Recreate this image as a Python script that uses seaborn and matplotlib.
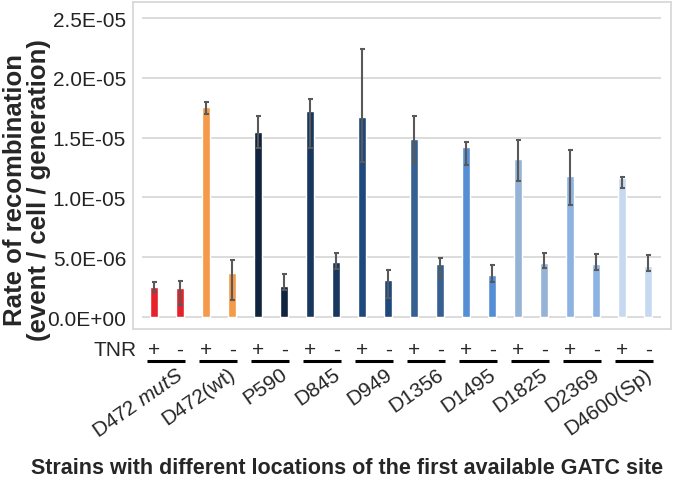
import numpy as np
import pandas as pd
import matplotlib
matplotlib.use("Agg")
import matplotlib.pyplot as plt
import matplotlib.transforms as mtransforms
from matplotlib.ticker import FuncFormatter
import seaborn as sns

# --- data ---
strains = ["D472 mutS", "D472(wt)", "P590", "D845", "D949",
           "D1356", "D1495", "D1825", "D2369", "D4600(Sp)"]
tnr_signs = ["+", "-"]

rate_plus = [2.5e-6, 1.76e-5, 1.55e-5, 1.72e-5, 1.67e-5,
             1.49e-5, 1.42e-5, 1.32e-5, 1.18e-5, 1.16e-5]
rate_minus = [2.4e-6, 3.7e-6, 2.6e-6, 4.6e-6, 3.1e-6,
              4.4e-6, 3.5e-6, 4.5e-6, 4.4e-6, 4.3e-6]
plus_low = [2.1e-6, 1.70e-5, 1.41e-5, 1.41e-5, 1.30e-5,
            1.29e-5, 1.27e-5, 1.14e-5, 9.4e-6, 1.08e-5]
plus_high = [2.9e-6, 1.80e-5, 1.68e-5, 1.82e-5, 2.24e-5,
             1.68e-5, 1.46e-5, 1.48e-5, 1.40e-5, 1.17e-5]
minus_low = [1.0e-6, 1.4e-6, 2.3e-6, 4.0e-6, 1.6e-6,
             3.3e-6, 2.95e-6, 4.07e-6, 3.93e-6, 3.87e-6]
minus_high = [3.0e-6, 4.8e-6, 3.6e-6, 5.35e-6, 3.95e-6,
              4.9e-6, 4.35e-6, 5.35e-6, 5.27e-6, 5.18e-6]

strain_colors = ["#e8202a", "#f59a48", "#10243f", "#17375e", "#1f497d",
                 "#376092", "#558ed5", "#95b3d7", "#8db3e2", "#c6d9f1"]

# long table, one row per bar
rows = []
for i, s in enumerate(strains):
    rows.append((s + " +", s, "+", rate_plus[i], plus_low[i], plus_high[i]))
    rows.append((s + " -", s, "-", rate_minus[i], minus_low[i], minus_high[i]))
df = pd.DataFrame(rows, columns=["bar", "strain", "tnr", "rate", "low", "high"])
palette = {b: strain_colors[strains.index(s)] for b, s in zip(df["bar"], df["strain"])}

# --- style ---
sns.set_style("white")
plt.rcParams["font.family"] = ["Liberation Sans", "DejaVu Sans"]
plt.rcParams["mathtext.fontset"] = "custom"
plt.rcParams["mathtext.it"] = "Liberation Sans:italic"
plt.rcParams["mathtext.rm"] = "Liberation Sans"

W, H = 677, 481
fig = plt.figure(figsize=(W / 100, H / 100), dpi=100)
ax = fig.add_axes([133 / W, 1 - 330 / H, (670.7 - 133) / W, 327 / H])

sns.barplot(data=df, x="bar", y="rate", hue="bar", palette=palette,
            width=0.3, legend=False, errorbar=None, saturation=1, ax=ax)

pos = np.arange(len(df))
ax.errorbar(pos, df["rate"],
            yerr=[df["rate"] - df["low"], df["high"] - df["rate"]],
            fmt="none", ecolor="#595959", elinewidth=1.5, capsize=1.8,
            capthick=1.5, zorder=3)

ax.set_xlim(-0.81, 19.87)
ax.set_ylim(-1.0e-6, 2.634e-5)
yticks = np.arange(0, 2.6e-5, 5e-6)
ax.set_yticks(yticks)
ax.yaxis.set_major_formatter(FuncFormatter(lambda v, p: f"{v:.1E}"))
ax.hlines(yticks, -0.46, 19.5, color="#d9d9d9", lw=1.3, zorder=0)
ax.tick_params(axis="y", length=0, pad=5, labelsize=15, labelcolor="#222222")
ax.set_xticks([])
ax.set_xlabel("")
ax.set_ylabel("")
for sp in ax.spines.values():
    sp.set_color("#d9d9d9")
    sp.set_linewidth(1.3)

# --- TNR table below the plot ---
tr = mtransforms.blended_transform_factory(ax.transData, fig.transFigure)
fig.text(137 / W, 1 - 350 / H, "TNR", ha="right", va="center", fontsize=15)
for i, s in enumerate(strains):
    for j, sign in enumerate(tnr_signs):
        ax.text(2 * i + j, 1 - 350 / H, sign, transform=tr, ha="center",
                va="center", fontsize=15)
    ax.plot([2 * i - 0.27, 2 * i + 1.2], [1 - 362 / H] * 2, transform=tr,
            color="black", lw=2.2, clip_on=False, solid_capstyle="butt")
    label = "D472 $\\it{mutS}$" if s == "D472 mutS" else s
    ax.text(2 * i + 0.85, 1 - 365 / H, label, transform=tr, ha="right",
            va="top", rotation=35, rotation_mode="anchor", fontsize=15)

fig.text(347 / W, 1 - 469 / H,
         "Strains with different locations of the first available GATC site",
         ha="center", va="center", fontsize=15.5, fontweight="bold")
fig.text(27 / W, 1 - 190 / H,
         "Rate of recombination\n(event / cell / generation)",
         ha="center", va="center", rotation=90, fontsize=18.5,
         fontweight="bold", multialignment="center", linespacing=0.95)

fig.savefig("out.png", dpi=100)
